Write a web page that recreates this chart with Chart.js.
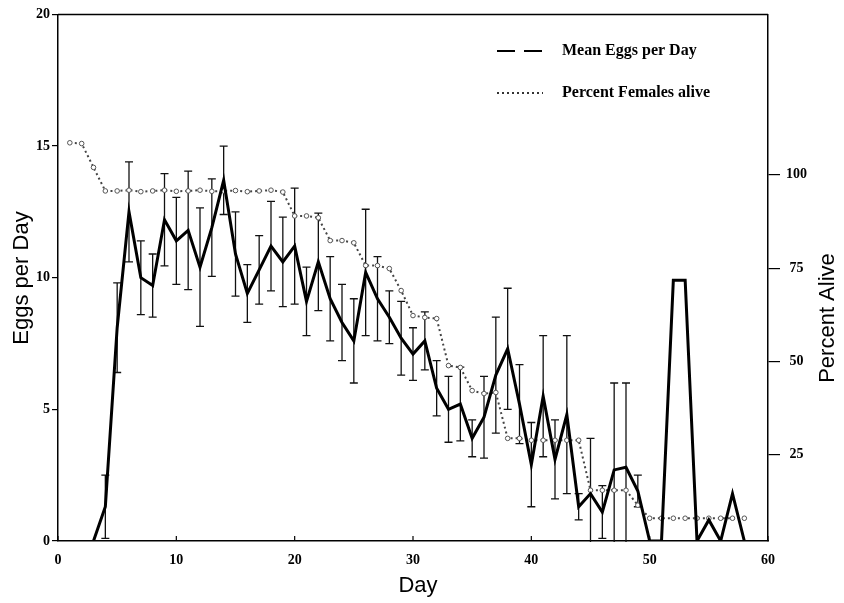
<!DOCTYPE html>
<html><head><meta charset="utf-8">
<script src="https://cdn.jsdelivr.net/npm/chart.js@4"></script>
<style>html,body{margin:0;padding:0;background:#fff}#wrap{width:844px;height:603px}</style>
</head><body><div id="wrap"><canvas id="c" width="844" height="603"></canvas></div>
<script>
const eggDays = [0,1,2,3,4,5,6,7,8,9,10,11,12,13,14,15,16,17,18,19,20,21,22,23,24,25,26,27,28,29,30,31,32,33,34,35,36,37,38,39,40,41,42,43,44,45,46,47,48,49,50,51,52,53,54,55,56,57,58];
const eggMeans = [null,null,null,0,1.3,8.1,12.5,10.0,9.7,12.2,11.4,11.8,10.4,11.9,13.7,10.9,9.4,10.3,11.2,10.6,11.2,9.1,10.6,9.2,8.3,7.6,10.2,9.2,8.5,7.7,7.1,7.6,5.8,5.0,5.2,3.9,4.7,6.3,7.3,5.2,2.9,5.5,3.1,4.8,1.3,1.8,1.1,2.7,2.8,1.9,0,0,9.9,9.9,0,0.8,0,1.8,0];
const eggErrors = [null,null,null,null,1.2,1.7,1.9,1.4,1.2,1.75,1.65,2.25,2.25,1.85,1.3,1.6,1.1,1.3,1.7,1.7,2.2,1.3,1.85,1.6,1.45,1.6,2.4,1.6,1.0,1.4,1.0,1.1,1.05,1.25,1.4,0.7,1.55,2.2,2.3,1.5,1.6,2.3,1.5,3.0,0.5,2.1,1.0,3.3,3.2,0.6,null,null,null,null,null,null,null,null,null];
const aliveDays = [1,2,3,4,5,6,7,8,9,10,11,12,13,14,15,16,17,18,19,20,21,22,23,24,25,26,27,28,29,30,31,32,33,34,35,36,37,38,39,40,41,42,43,44,45,46,47,48,49,50,51,52,53,54,55,56,57,58];
const alivePercent = [108.6,108.4,102.0,95.7,95.7,95.9,95.5,95.7,95.9,95.6,95.7,95.9,95.6,95.7,95.8,95.5,95.7,95.9,95.4,89.0,89.0,88.5,82.4,82.4,81.8,75.7,75.7,74.9,69.0,62.3,61.8,61.5,48.9,48.4,42.2,41.4,41.7,29.4,29.4,28.9,28.9,28.9,28.9,28.9,15.5,15.5,15.5,15.5,11.5,8.0,8.0,8.0,8.0,8.0,8.0,8.0,8.0,8.0];
const xTicks = [0,10,20,30,40,50,60];
const leftTicks = [0,5,10,15,20];
const rightTicks = [25,50,75,100];
const legendLabels = ['Mean Eggs per Day','Percent Females alive'];
const axisTitles = {x:'Day', left:'Eggs per Day', right:'Percent Alive'};

const tickFont = {family:'"Liberation Serif", "Times New Roman", serif', size:14, weight:'bold'};

const errorBars = {
  id:'errorBars',
  beforeDatasetsDraw(chart){
    const {ctx, chartArea:a, scales:{x, y}} = chart;
    ctx.save();
    ctx.beginPath(); ctx.rect(a.left, a.top, a.right-a.left, a.bottom-a.top+1); ctx.clip();
    ctx.strokeStyle = '#111'; ctx.lineWidth = 1.3;
    eggDays.forEach((d,i)=>{
      const e = eggErrors[i]; if(e==null || eggMeans[i]==null) return;
      const px = x.getPixelForValue(d);
      const t = y.getPixelForValue(eggMeans[i]+e), b = y.getPixelForValue(eggMeans[i]-e);
      ctx.beginPath();
      ctx.moveTo(px,t); ctx.lineTo(px,b);
      ctx.moveTo(px-4,t); ctx.lineTo(px+4,t);
      ctx.moveTo(px-4,b); ctx.lineTo(px+4,b);
      ctx.stroke();
    });
    ctx.restore();
  }
};

const decor = {
  id:'decor',
  afterDraw(chart){
    const {ctx, chartArea:a, scales:{x}} = chart;
    ctx.save();
    ctx.strokeStyle = '#000'; ctx.lineWidth = 1.5;
    ctx.beginPath(); ctx.moveTo(a.left, a.top); ctx.lineTo(a.right, a.top); ctx.stroke();
    ctx.lineWidth = 1.2;
    xTicks.forEach(v=>{ const px = x.getPixelForValue(v); ctx.beginPath(); ctx.moveTo(px,a.bottom); ctx.lineTo(px,a.bottom-5); ctx.stroke(); });
    ctx.fillStyle = '#000';
    ctx.font = '22px "Liberation Sans", Arial, sans-serif';
    ctx.textAlign = 'center'; ctx.textBaseline = 'middle';
    ctx.fillText(axisTitles.x, 418, 586);
    ctx.save(); ctx.translate(22, 278); ctx.rotate(-Math.PI/2); ctx.fillText(axisTitles.left, 0, 0); ctx.restore();
    ctx.save(); ctx.translate(828, 318); ctx.rotate(-Math.PI/2); ctx.fillText(axisTitles.right, 0, 0); ctx.restore();
    ctx.lineWidth = 2.2; ctx.strokeStyle = '#000';
    ctx.setLineDash([18,9]);
    ctx.beginPath(); ctx.moveTo(497,51); ctx.lineTo(543,51); ctx.stroke();
    ctx.setLineDash([2,3]); ctx.strokeStyle = '#333'; ctx.lineWidth = 2;
    ctx.beginPath(); ctx.moveTo(497,93); ctx.lineTo(543,93); ctx.stroke();
    ctx.setLineDash([]);
    ctx.font = 'bold 16px "Liberation Serif", "Times New Roman", serif';
    ctx.textAlign = 'left';
    ctx.fillText(legendLabels[0], 562, 51);
    ctx.fillText(legendLabels[1], 562, 93);
    ctx.restore();
  }
};

new Chart(document.getElementById('c'), {
  type:'line',
  data:{
    datasets:[
      {label:legendLabels[0], data:eggDays.map((d,i)=>({x:d,y:eggMeans[i]})), yAxisID:'y', borderColor:'#000', borderWidth:3, pointRadius:0, tension:0, order:1},
      {label:legendLabels[1], data:aliveDays.map((d,i)=>({x:d,y:alivePercent[i]})), yAxisID:'y2', borderColor:'#444', borderWidth:2, borderDash:[2,3], pointRadius:2.3, pointBackgroundColor:'#fff', pointBorderColor:'#555', pointBorderWidth:1, tension:0, order:2}
    ]
  },
  options:{
    responsive:false, animation:false, devicePixelRatio:1,
    layout:{padding:{top:13, left:0, right:0, bottom:0}},
    plugins:{legend:{display:false}, tooltip:{enabled:false}},
    scales:{
      x:{type:'linear', position:'bottom', min:0, max:60,
        afterBuildTicks:s=>{s.ticks = xTicks.map(v=>({value:v}));},
        afterFit:s=>{s.height = 62;},
        grid:{display:true, drawOnChartArea:false, drawTicks:true, tickLength:6, color:'rgba(0,0,0,0)'},
        border:{display:true, color:'#000', width:1.5},
        ticks:{font:tickFont, color:'#000', padding:5, maxRotation:0}},
      y:{position:'left', min:0, max:20,
        afterBuildTicks:s=>{s.ticks = leftTicks.map(v=>({value:v}));},
        afterFit:s=>{s.width = 58;},
        grid:{display:true, drawOnChartArea:false, drawTicks:true, tickLength:6, color:'#000', lineWidth:1.2},
        border:{display:true, color:'#000', width:1.5},
        ticks:{font:tickFont, color:'#000', padding:2}},
      y2:{position:'right', min:1.9, max:143,
        afterBuildTicks:s=>{s.ticks = rightTicks.map(v=>({value:v}));},
        afterFit:s=>{s.width = 76;},
        grid:{display:true, drawOnChartArea:false, drawTicks:true, tickLength:12, color:'#000', lineWidth:1.2},
        border:{display:true, color:'#000', width:1.5},
        ticks:{font:tickFont, color:'#000', padding:6, crossAlign:'center'}}
    }
  },
  plugins:[errorBars, decor]
});
</script>
</body></html>
